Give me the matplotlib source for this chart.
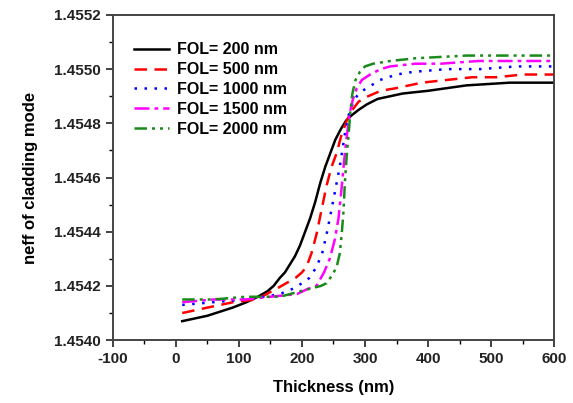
import matplotlib
matplotlib.use("Agg")
import matplotlib.pyplot as plt
from matplotlib.ticker import MultipleLocator, FormatStrFormatter

plt.rcParams['font.family'] = ['Liberation Sans', 'DejaVu Sans']
plt.rcParams['font.weight'] = 'bold'
plt.rcParams['axes.unicode_minus'] = False

labels = ["FOL= 200 nm", "FOL= 500 nm", "FOL= 1000 nm", "FOL= 1500 nm", "FOL= 2000 nm"]

x200 = [10, 30, 50, 70, 90, 112, 130, 145, 155, 165, 173, 181, 189, 197, 205, 213, 221, 229, 237, 245, 253, 262, 270, 279, 290, 303, 320, 340, 360, 400, 461, 530, 600]
y200 = [1.45407, 1.45408, 1.45409, 1.454105, 1.45412, 1.45414, 1.45416, 1.45418, 1.45420, 1.45423, 1.45425, 1.45428, 1.45431, 1.45435, 1.45440, 1.45445, 1.45451, 1.45458, 1.45464, 1.45469, 1.45474, 1.45478, 1.45481, 1.45483, 1.45485, 1.45487, 1.45489, 1.45490, 1.45491, 1.45492, 1.45494, 1.45495, 1.45495]

x500 = [10, 50, 91, 128, 144, 160, 175, 190, 200, 207, 215, 223, 231, 239, 247, 255, 263, 271, 280, 290, 305, 325, 350, 390, 430, 470, 509, 550, 600]
y500 = [1.45410, 1.45412, 1.45414, 1.45415, 1.45417, 1.45419, 1.45421, 1.45423, 1.45425, 1.45427, 1.45432, 1.45439, 1.45448, 1.45457, 1.45464, 1.45469, 1.45476, 1.45481, 1.45485, 1.45488, 1.45490, 1.45492, 1.45493, 1.45495, 1.45496, 1.45497, 1.45497, 1.45498, 1.45498]

x1000 = [10, 60, 110, 140, 165, 186, 200, 212, 223, 232, 239, 245, 250, 255, 260, 264, 268, 274, 280, 287, 296, 310, 324, 350, 377, 430, 483, 540, 600]
y1000 = [1.45413, 1.45414, 1.45415, 1.45416, 1.45417, 1.45419, 1.45421, 1.45423, 1.45427, 1.45432, 1.45439, 1.45446, 1.45452, 1.45458, 1.45464, 1.45470, 1.45476, 1.45483, 1.45487, 1.45490, 1.45492, 1.45494, 1.45496, 1.45498, 1.45499, 1.45500, 1.45500, 1.45501, 1.45501]

x1500 = [10, 60, 110, 150, 192, 210, 223, 235, 244, 252, 258, 262, 266, 269, 272, 276, 281, 287, 295, 308, 325, 340, 380, 420, 480, 600]
y1500 = [1.45414, 1.45415, 1.45415, 1.45416, 1.45417, 1.45419, 1.45420, 1.45425, 1.45430, 1.45437, 1.45445, 1.45454, 1.45464, 1.45471, 1.45477, 1.45484, 1.45489, 1.45493, 1.45496, 1.45498, 1.45500, 1.45501, 1.45502, 1.45502, 1.45503, 1.45503]

x2000 = [10, 60, 110, 165, 213, 230, 239, 248, 255, 260, 263, 266, 268, 271, 274, 277, 280, 285, 292, 300, 313, 340, 380, 461, 600]
y2000 = [1.45415, 1.45415, 1.45416, 1.45416, 1.45419, 1.45420, 1.45421, 1.45424, 1.45427, 1.45432, 1.45439, 1.45448, 1.45458, 1.45468, 1.45476, 1.45485, 1.45491, 1.45496, 1.45499, 1.45501, 1.45502, 1.45503, 1.45504, 1.45505, 1.45505]

fig = plt.figure(figsize=(5.73, 4.03), dpi=100)
ax = fig.add_axes([0.197, 0.156, 0.770, 0.807])

lw = 1.8
ax.plot(x200, y200, color='black', lw=lw, ls='-', label=labels[0])
ax.plot(x500, y500, color='red', lw=lw, ls=(0, (5, 3)), label=labels[1])
ax.plot(x1000, y1000, color='blue', lw=lw, ls=(0, (1, 3)), label=labels[2])
ax.plot(x1500, y1500, color='magenta', lw=lw, ls=(0, (6, 2, 1.5, 2)), label=labels[3])
ax.plot(x2000, y2000, color='#1a8a1a', lw=lw, ls=(0, (5, 2, 1.2, 2, 1.2, 2)), label=labels[4])

ax.set_xlim(-100, 600)
ax.set_ylim(1.4540, 1.4552)
ax.xaxis.set_major_locator(MultipleLocator(100))
ax.xaxis.set_minor_locator(MultipleLocator(50))
ax.yaxis.set_major_locator(MultipleLocator(0.0002))
ax.yaxis.set_minor_locator(MultipleLocator(0.0001))
ax.yaxis.set_major_formatter(FormatStrFormatter('%.4f'))

ax.tick_params(which='major', direction='out', length=5, width=1.2, labelsize=11, colors='#222222')
ax.tick_params(which='minor', direction='out', length=3, width=1.0)
for lab in ax.get_xticklabels() + ax.get_yticklabels():
    lab.set_fontweight('bold')
for s in ax.spines.values():
    s.set_linewidth(1.4)
    s.set_color('#444444')

ax.set_xlabel('Thickness (nm)', fontsize=12, fontweight='bold', labelpad=10)
ax.set_ylabel('neff of cladding mode', fontsize=12, fontweight='bold', labelpad=12)

leg = ax.legend(loc='upper left', frameon=False, fontsize=11.5, handlelength=2.2,
                handletextpad=0.5, labelspacing=0.3, bbox_to_anchor=(0.022, 0.95), borderaxespad=0.3)
for t in leg.get_texts():
    t.set_fontweight('bold')

fig.savefig('out.png', dpi=100)
